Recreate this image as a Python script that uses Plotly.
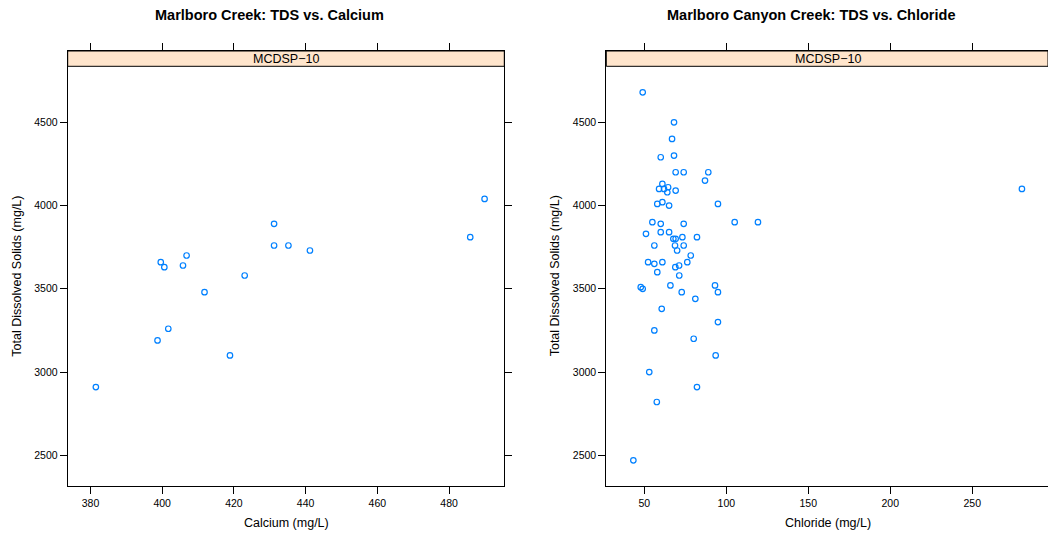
import plotly.graph_objects as go

# ---------------- data ----------------
calcium = [381.5, 398.7, 401.7, 399.6, 400.6, 405.8, 406.8, 411.8, 418.9, 423.0,
           431.2, 431.2, 435.2, 441.2, 485.9, 489.9]
tds_calcium = [2910, 3190, 3260, 3660, 3630, 3640, 3700, 3480, 3100, 3580,
               3890, 3760, 3760, 3730, 3810, 4040]

chloride = [49.0, 68.1, 66.9, 60.0, 68.1, 69.1, 74.0, 89.0, 87.0, 61.0,
            59.0, 62.0, 64.5, 64.0, 69.1, 57.9, 61.0, 65.1, 94.9, 105.1,
            119.3, 54.9, 60.0, 74.0, 51.0, 60.0, 65.1, 67.7, 69.1, 73.2,
            82.1, 56.1, 68.7, 74.0, 70.0, 78.3, 52.3, 56.1, 61.0, 76.2,
            68.9, 71.2, 57.9, 71.3, 47.8, 49.0, 65.9, 72.8, 93.1, 94.9,
            81.1, 60.6, 94.9, 56.1, 80.1, 93.5, 53.0, 82.1, 57.6, 43.3, 280.3]
tds_chloride = [4680, 4500, 4400, 4290, 4300, 4200, 4200, 4200, 4150, 4130,
                4100, 4100, 4110, 4080, 4090, 4010, 4020, 4000, 4010, 3900,
                3900, 3900, 3890, 3890, 3830, 3840, 3840, 3800, 3800, 3810,
                3810, 3760, 3760, 3760, 3730, 3700, 3660, 3650, 3660, 3660,
                3630, 3640, 3600, 3580, 3510, 3500, 3520, 3480, 3520, 3480,
                3440, 3380, 3300, 3250, 3200, 3100, 3000, 2910, 2820, 2470, 4100]

ca_ticks = [380, 400, 420, 440, 460, 480]
cl_ticks = [50, 100, 150, 200, 250]
tds_ticks = [2500, 3000, 3500, 4000, 4500]

panel_label = "MCDSP\u221210"
titles = ["Marlboro Creek: TDS vs. Calcium", "Marlboro Canyon Creek: TDS vs. Chloride"]
x_titles = ["Calcium (mg/L)", "Chloride (mg/L)"]
y_title = "Total Dissolved Solids (mg/L)"

# ---------------- layout helpers ----------------
W, H = 1048, 537
FONT = "Liberation Sans, Arial, Helvetica, sans-serif"

def px(x):
    return x / W

def py(y):
    return 1 - y / H

y_range = [2315.6, 4928.2]
strip_lo, strip_hi = 4836.3, 4928.2
ydom = [py(486), py(51)]

fig = go.Figure()
marker = dict(symbol="circle-open", size=5.5, color="#0080ff",
              line=dict(width=1.2, color="#0080ff"))
fig.add_trace(go.Scatter(x=calcium, y=tds_calcium, mode="markers", marker=marker,
                         xaxis="x", yaxis="y", showlegend=False))
fig.add_trace(go.Scatter(x=chloride, y=tds_chloride, mode="markers", marker=marker,
                         xaxis="x2", yaxis="y2", showlegend=False))

axis_common = dict(showgrid=False, zeroline=False, showline=True, linecolor="#000",
                   linewidth=1, ticks="outside", ticklen=7, tickcolor="#000",
                   tickwidth=1, tickfont=dict(family=FONT, size=10.5, color="#000"))

fig.update_layout(
    width=W, height=H, margin=dict(l=0, r=0, t=0, b=0),
    paper_bgcolor="white", plot_bgcolor="white",
    xaxis=dict(domain=[px(67.7), px(504.3)], range=[373.65, 495.4],
               tickvals=ca_ticks, mirror="ticks", anchor="y", **axis_common),
    yaxis=dict(domain=ydom, range=y_range, tickvals=tds_ticks,
               mirror="ticks", anchor="x", **axis_common),
    xaxis2=dict(domain=[px(606.3), 1.0], range=[26.8, 296.2],
                tickvals=cl_ticks, mirror="ticks", anchor="y2", **axis_common),
    yaxis2=dict(domain=ydom, range=y_range, tickvals=tds_ticks,
                mirror=False, anchor="x2", **axis_common),
)

# strips
for xr, yr in [("x domain", "y"), ("x2 domain", "y2")]:
    fig.add_shape(type="rect", xref=xr, yref=yr, x0=0, x1=1, y0=strip_lo, y1=strip_hi,
                  fillcolor="#ffe5cc", line=dict(color="#000", width=1), layer="below")

centers = [286.0, 827.7]
title_centers = [269.5, 811.0]
ytitle_x = [16.7, 555.3]
ann = dict(xref="paper", yref="paper", showarrow=False, xanchor="center", yanchor="middle")
for i in range(2):
    fig.add_annotation(x=px(centers[i]), y=py(59.0), text=panel_label,
                       font=dict(family=FONT, size=12.5, color="#000"), **ann)
    fig.add_annotation(x=px(title_centers[i]), y=py(15.5), text="<b>" + titles[i] + "</b>",
                       font=dict(family=FONT, size=14.5, color="#000"), **ann)
    fig.add_annotation(x=px(centers[i]), y=py(523.0), text=x_titles[i],
                       font=dict(family=FONT, size=12.5, color="#000"), **ann)
    fig.add_annotation(x=px(ytitle_x[i]), y=py(276.0), text=y_title, textangle=-90,
                       font=dict(family=FONT, size=12.5, color="#000"), **ann)

fig.write_html("out.html", config={"displayModeBar": False},
               post_script="document.body.style.margin='0';document.body.style.overflow='hidden';")
